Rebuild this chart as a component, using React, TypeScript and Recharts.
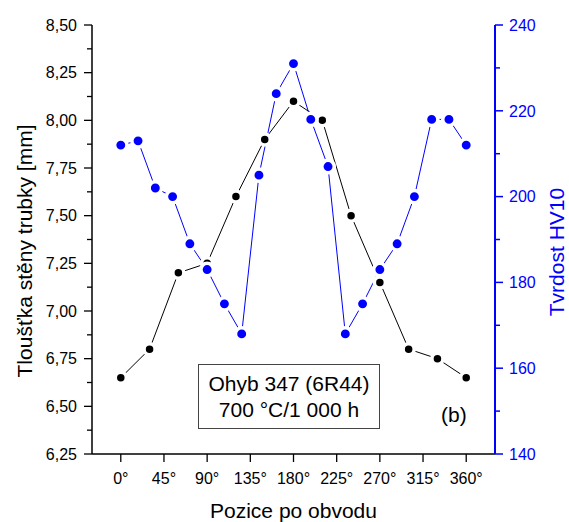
import React from 'react';
import { LineChart, Line, XAxis, YAxis } from 'recharts';

// ---- data ----
const thicknessAngles = [0, 30, 60, 90, 120, 150, 180, 210, 240, 270, 300, 330, 360];
const thicknessValues = [6.65, 6.8, 7.2, 7.25, 7.6, 7.9, 8.1, 8.0, 7.5, 7.15, 6.8, 6.75, 6.65];
const hardnessAngles = [0, 18, 36, 54, 72, 90, 108, 126, 144, 162, 180, 198, 216, 234, 252, 270, 288, 306, 324, 342, 360];
const hardnessValues = [212, 213, 202, 200, 189, 183, 175, 168, 205, 224, 231, 218, 207, 168, 175, 183, 189, 200, 218, 218, 212];

const xTicks = [0, 45, 90, 135, 180, 225, 270, 315, 360];
const leftMajorTicks = [6.25, 6.5, 6.75, 7.0, 7.25, 7.5, 7.75, 8.0, 8.25, 8.5];
const leftMinorTicks = [6.375, 6.625, 6.875, 7.125, 7.375, 7.625, 7.875, 8.125, 8.375];
const rightMajorTicks = [140, 160, 180, 200, 220, 240];
const rightMinorTicks = [150, 170, 190, 210, 230];

const xLabel = 'Pozice po obvodu';
const leftLabel = 'Tloušťka stěny trubky [mm]';
const rightLabel = 'Tvrdost HV10';
const boxLine1 = 'Ohyb 347 (6R44)';
const boxLine2 = '700 °C/1 000 h';
const panelLabel = '(b)';

const thicknessData = thicknessAngles.map((x, i) => ({ x, v: thicknessValues[i] }));
const hardnessData = hardnessAngles.map((x, i) => ({ x, v: hardnessValues[i] }));

// ---- layout ----
const W = 569;
const H = 522;
const LEFT_W = 92;
const RIGHT_W = 74;
const TOP = 25;
const BOTTOM_H = 68;
const PL = LEFT_W;
const PR = W - RIGHT_W;
const PT = TOP;
const PB = H - BOTTOM_H;
const BLUE = '#0000FF';
const FONT = '"Liberation Sans", Arial, Helvetica, sans-serif';

const LeftTick = (props: any) => {
  const { y, payload } = props;
  const v = payload.value;
  const major = leftMajorTicks.includes(v);
  return (
    <g>
      <line x1={PL} x2={PL - (major ? 8 : 5)} y1={y} y2={y} stroke="#000" strokeWidth={1.3} />
      {major && (
        <text x={PL - 15} y={y} dy="0.36em" textAnchor="end" fontSize={16} fontFamily={FONT} fill="#000">
          {v.toFixed(2).replace('.', ',')}
        </text>
      )}
    </g>
  );
};

const RightTick = (props: any) => {
  const { y, payload } = props;
  const v = payload.value;
  const major = rightMajorTicks.includes(v);
  return (
    <g>
      <line x1={PR} x2={PR + (major ? 8 : 5)} y1={y} y2={y} stroke={BLUE} strokeWidth={1.5} />
      {major && (
        <text x={PR + 14} y={y} dy="0.36em" textAnchor="start" fontSize={16} fontFamily={FONT} fill={BLUE}>
          {String(v)}
        </text>
      )}
    </g>
  );
};

const BottomTick = (props: any) => {
  const { x, payload } = props;
  return (
    <g>
      <line x1={x} x2={x} y1={PB} y2={PB + 8} stroke="#000" strokeWidth={1.3} />
      <text x={x} y={PB + 24} dy="0.36em" textAnchor="middle" fontSize={16} fontFamily={FONT} fill="#000">
        {`${payload.value}°`}
      </text>
    </g>
  );
};

const TopTick = (props: any) => {
  const { x } = props;
  return <line x1={x} x2={x} y1={PT} y2={PT + 3} stroke="#000" strokeWidth={1} />;
};

const LeftTitle = () => (
  <text
    x={24}
    y={251}
    transform={`rotate(-90 24 251)`}
    textAnchor="middle"
    dominantBaseline="central"
    fontSize={21}
    fontFamily={FONT}
    fill="#000"
  >
    {leftLabel}
  </text>
);

const RightTitle = () => (
  <text
    x={556}
    y={252}
    transform={`rotate(-90 556 252)`}
    textAnchor="middle"
    dominantBaseline="central"
    fontSize={21}
    fontFamily={FONT}
    fill={BLUE}
  >
    {rightLabel}
  </text>
);

const BottomTitle = () => (
  <text
    x={(PL + PR) / 2}
    y={510}
    textAnchor="middle"
    dominantBaseline="central"
    fontSize={21}
    fontFamily={FONT}
    fill="#000"
  >
    {xLabel}
  </text>
);

export default function App() {
  return (
    <div style={{ position: 'absolute', left: 0, top: 0, width: W, height: H, background: '#fff', fontFamily: FONT }}>
      <LineChart width={W} height={H} margin={{ top: TOP, right: 0, bottom: 0, left: 0 }}>
        <XAxis
          xAxisId="bottom"
          type="number"
          dataKey="x"
          domain={[-30, 390]}
          ticks={xTicks}
          interval={0}
          height={BOTTOM_H}
          axisLine={{ stroke: '#000', strokeWidth: 1.5 }}
          tickLine={false}
          tick={<BottomTick />}
          label={<BottomTitle />}
        />
        <XAxis
          xAxisId="top"
          orientation="top"
          type="number"
          dataKey="x"
          domain={[-30, 390]}
          ticks={xTicks}
          interval={0}
          height={0}
          axisLine={{ stroke: '#000', strokeWidth: 1.5 }}
          tickLine={false}
          tick={<TopTick />}
        />
        <YAxis
          yAxisId="left"
          orientation="left"
          type="number"
          domain={[6.25, 8.5]}
          ticks={[...leftMajorTicks, ...leftMinorTicks].sort((a, b) => a - b)}
          interval={0}
          width={LEFT_W}
          axisLine={{ stroke: '#000', strokeWidth: 1.5 }}
          tickLine={false}
          tick={<LeftTick />}
          label={<LeftTitle />}
        />
        <YAxis
          yAxisId="right"
          orientation="right"
          type="number"
          domain={[140, 240]}
          ticks={[...rightMajorTicks, ...rightMinorTicks].sort((a, b) => a - b)}
          interval={0}
          width={RIGHT_W}
          axisLine={{ stroke: BLUE, strokeWidth: 2 }}
          tickLine={false}
          tick={<RightTick />}
          label={<RightTitle />}
        />
        <Line
          xAxisId="bottom"
          yAxisId="left"
          data={thicknessData}
          dataKey="v"
          type="linear"
          stroke="#000"
          strokeWidth={1}
          dot={{ r: 5.5, fill: '#000', stroke: '#fff', strokeWidth: 3.5 }}
          isAnimationActive={false}
        />
        <Line
          xAxisId="bottom"
          yAxisId="right"
          data={hardnessData}
          dataKey="v"
          type="linear"
          stroke={BLUE}
          strokeWidth={1}
          dot={{ r: 6.2, fill: BLUE, stroke: '#fff', strokeWidth: 3.5 }}
          isAnimationActive={false}
        />
      </LineChart>
      <div
        style={{
          position: 'absolute',
          left: 198,
          top: 364,
          width: 182,
          height: 65,
          boxSizing: 'border-box',
          border: '1.5px solid #444',
          background: '#fff',
          display: 'flex',
          flexDirection: 'column',
          alignItems: 'center',
          justifyContent: 'center',
          fontSize: 21,
          lineHeight: '26px',
          color: '#000',
          whiteSpace: 'nowrap',
        }}
      >
        <div>{boxLine1}</div>
        <div>{boxLine2}</div>
      </div>
      <div
        style={{
          position: 'absolute',
          left: 441,
          top: 403,
          fontSize: 21,
          lineHeight: '24px',
          color: '#000',
        }}
      >
        {panelLabel}
      </div>
    </div>
  );
}
